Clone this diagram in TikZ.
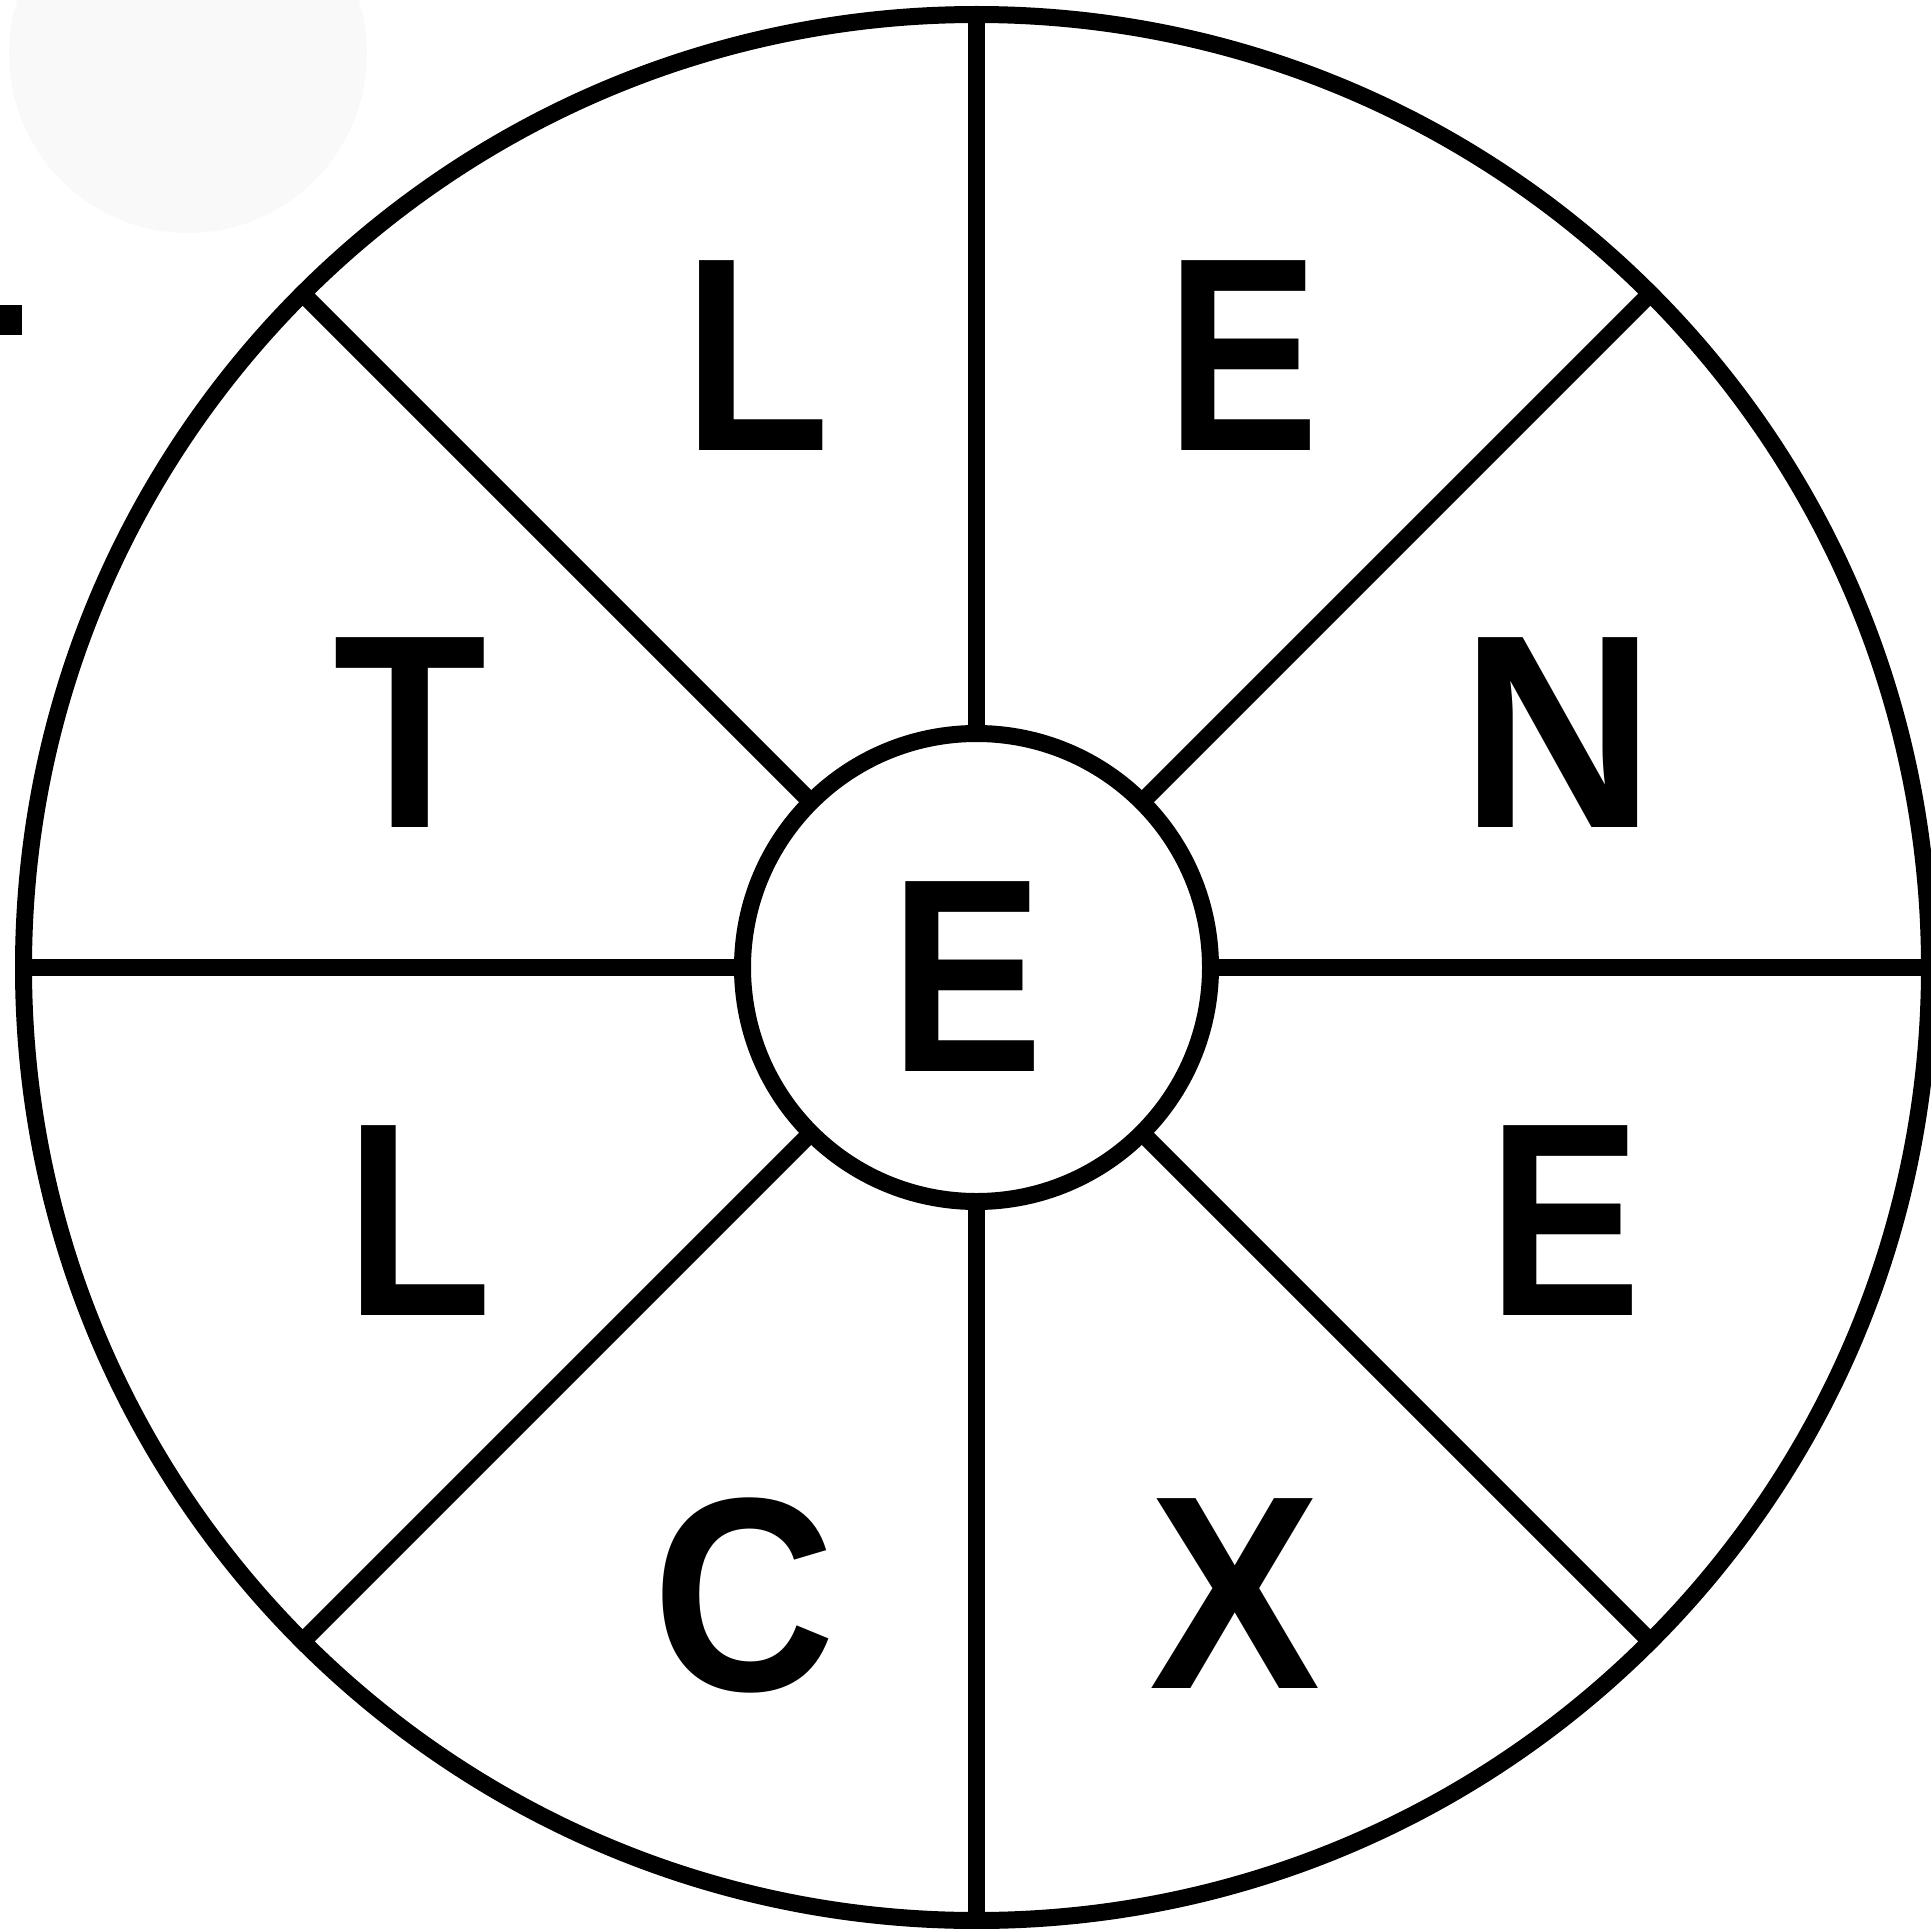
\documentclass[tikz,border=0pt]{standalone}
\usepackage{fontspec}
\usepackage{graphicx}
\setmainfont{Liberation Sans}
\newcommand\wheelletter[2]{\scalebox{#1}[1]{#2}}
\begin{document}
\begin{tikzpicture}[x=1pt,y=-1pt,
  ring/.style={circle,draw=black,line width=17pt,inner sep=0pt,outer sep=0pt},
  spoke/.style={draw=black,line width=17pt},
  letter/.style={inner sep=0pt,font=\fontsize{276}{290}\selectfont\bfseries}]
\useasboundingbox (0,0) rectangle (1931,1929);
% faint background shapes
\fill[black!2.5] (188,54) circle (179);
\fill[black] (0,305) rectangle (22,335);
% rings
\node[ring,minimum size=1906pt] (out) at (976.5,967.5) {};
\node[ring,minimum size=468pt] (in) at (976.5,967.5) {};
% spokes
\foreach \a in {0,45,...,315}{
  \draw[spoke] (in.\a) -- (out.\a);
}
% letters
\node[letter] (l1) at (757,356) {\wheelletter{0.87}{L}};
\node[letter] (e1) at (1243,356) {\wheelletter{0.83}{E}};
\node[letter] (t) at (410,733) {\wheelletter{0.91}{T}};
\node[letter] (n) at (1558,733) {\wheelletter{0.98}{N}};
\node[letter] (ec) at (967,977) {\wheelletter{0.83}{E}};
\node[letter] (l2) at (419,1221) {\wheelletter{0.87}{L}};
\node[letter] (e2) at (1565,1221) {\wheelletter{0.83}{E}};
\node[letter] (c) at (744,1595) {\wheelletter{0.92}{C}};
\node[letter] (x) at (1235,1594) {\wheelletter{0.93}{X}};
\end{tikzpicture}
\end{document}
